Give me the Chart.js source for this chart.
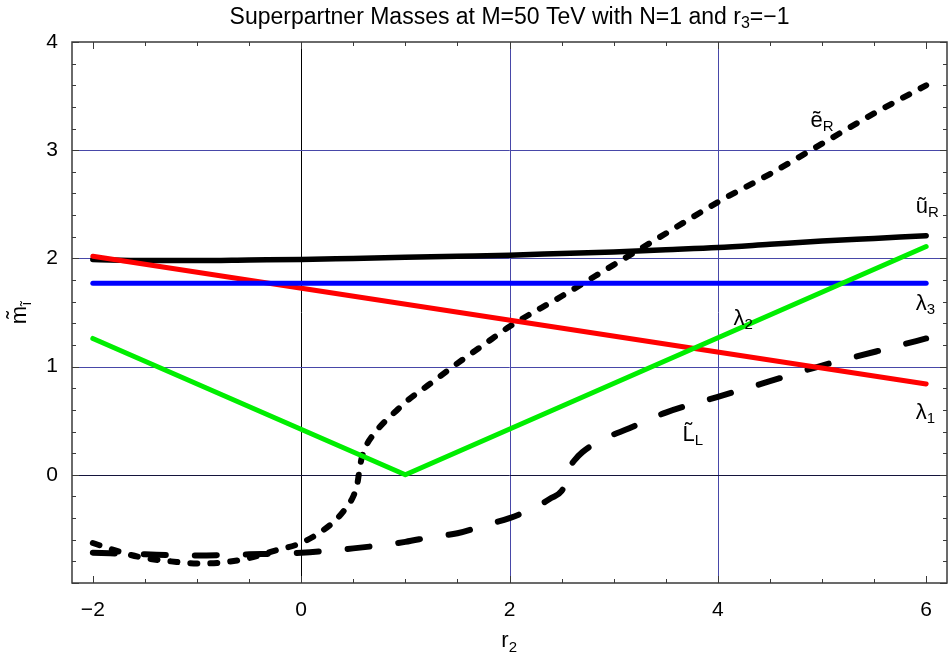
<!DOCTYPE html>
<html><head><meta charset="utf-8">
<script src="https://cdn.jsdelivr.net/npm/chart.js@4"></script>
<style>html,body{margin:0;padding:0;background:#fff}canvas{display:block}</style>
</head><body>
<canvas id="c" width="948" height="659"></canvas>
<script>
// ---- data ----
const uR_x = [-2, -1.5, -1, -0.5, 0, 0.5, 1, 1.5, 2, 2.5, 3, 3.5, 4, 4.5, 5, 5.5, 6];
const uR_y = [1.99, 1.98, 1.98, 1.985, 1.99, 2.0, 2.01, 2.02, 2.03, 2.045, 2.06, 2.08, 2.10, 2.13, 2.16, 2.185, 2.21];

const eR_x = [-2, -1.75, -1.5, -1.25, -1, -0.75, -0.5, -0.25, 0, 0.2, 0.35, 0.45, 0.5, 0.54, 0.56, 0.58, 0.62, 0.7, 0.8, 0.9, 1.0, 1.25, 1.5, 1.75, 2.0, 2.5, 3.0, 3.5, 4.0, 4.5, 5.0, 5.5, 6.0];
const eR_y = [-0.63, -0.71, -0.77, -0.80, -0.82, -0.81, -0.77, -0.70, -0.63, -0.52, -0.40, -0.28, -0.20, -0.08, 0.05, 0.15, 0.26, 0.38, 0.49, 0.58, 0.67, 0.85, 1.03, 1.20, 1.37, 1.65, 1.94, 2.23, 2.52, 2.78, 3.06, 3.34, 3.60];

const LL_x = [-2, -1.5, -1, -0.5, 0, 0.5, 1, 1.25, 1.5, 1.75, 2, 2.25, 2.4, 2.5, 2.54, 2.56, 2.58, 2.62, 2.7, 2.9, 3.15, 3.5, 4, 4.5, 5, 5.5, 6];
const LL_y = [-0.72, -0.735, -0.745, -0.735, -0.72, -0.68, -0.62, -0.575, -0.54, -0.47, -0.40, -0.30, -0.215, -0.15, -0.07, 0.0, 0.07, 0.13, 0.21, 0.33, 0.43, 0.575, 0.72, 0.865, 1.01, 1.135, 1.26];

const l1_x = [-2, 6];
const l1_y = [2.02, 0.84];
const l2_x = [-2, 1, 6];
const l2_y = [1.26, 0, 2.11];
const l3_x = [-2, 6];
const l3_y = [1.77, 1.77];

const xTickLabels = [-2, 0, 2, 4, 6];
const yTickLabels = [0, 1, 2, 3, 4];
const gridX = [0, 2, 4];
const gridY = [0, 1, 2, 3];

const curveLabels = [
  {base: '\u1EBD', sub: 'R', x: 4.89, y: 3.21},
  {base: '\u0169', sub: 'R', x: 5.90, y: 2.415},
  {base: '\u03BB', sub: '3', x: 5.90, y: 1.52},
  {base: '\u03BB', sub: '2', x: 4.15, y: 1.385},
  {base: '\u03BB', sub: '1', x: 5.90, y: 0.52},
  {base: 'L\u0303', sub: 'L', x: 3.66, y: 0.31}
];

const FONT = '"Liberation Sans", Arial, Helvetica, sans-serif';
const pts = (xs, ys) => xs.map((x, i) => ({x, y: ys[i]}));

function seg(ctx, x1, y1, x2, y2) { ctx.beginPath(); ctx.moveTo(x1, y1); ctx.lineTo(x2, y2); ctx.stroke(); }

function textWithSub(ctx, base, sub, x, y, size, subSize, drop) {
  ctx.font = size + 'px ' + FONT;
  ctx.fillText(base, x, y);
  const w = ctx.measureText(base).width;
  ctx.font = subSize + 'px ' + FONT;
  ctx.fillText(sub, x + w, y + drop);
  return w + ctx.measureText(sub).width;
}

const decor = {
  id: 'decor',
  beforeDatasetsDraw(chart) {
    const {ctx, chartArea: a, scales: {x, y}} = chart;
    ctx.save();
    ctx.lineWidth = 1;
    gridX.forEach(v => {
      const px = Math.round(x.getPixelForValue(v)) + 0.5;
      ctx.strokeStyle = v === 0 ? '#000000' : '#4848a8';
      seg(ctx, px, a.top, px, a.bottom);
    });
    gridY.forEach(v => {
      const py = Math.round(y.getPixelForValue(v)) + 0.5;
      ctx.strokeStyle = v === 0 ? '#14143c' : '#4848a8';
      seg(ctx, a.left, py, a.right, py);
    });
    ctx.restore();
  },
  afterDatasetsDraw(chart) {
    const {ctx, chartArea: a, scales: {x, y}} = chart;
    ctx.save();
    // frame
    ctx.strokeStyle = '#3a3a3a';
    ctx.lineWidth = 1.5;
    ctx.strokeRect(a.left, a.top, a.right - a.left, a.bottom - a.top);
    // ticks
    ctx.lineWidth = 1;
    for (let v = -2; v <= 6.001; v += 0.5) {
      const px = Math.round(x.getPixelForValue(v)) + 0.5;
      const major = Math.abs(v - Math.round(v)) < 1e-6 && Math.round(v) % 2 === 0;
      const L = major ? 7 : 4;
      seg(ctx, px, a.bottom, px, a.bottom - L);
      seg(ctx, px, a.top, px, a.top + L);
    }
    for (let k = -5; k <= 20; k++) {
      const v = k * 0.2;
      const py = Math.round(y.getPixelForValue(v)) + 0.5;
      const major = k % 5 === 0;
      const L = major ? 7 : 4;
      seg(ctx, a.left, py, a.left + L, py);
      seg(ctx, a.right, py, a.right - L, py);
    }
    // curve labels
    ctx.fillStyle = '#000';
    ctx.textBaseline = 'alphabetic';
    ctx.textAlign = 'left';
    curveLabels.forEach(l => {
      textWithSub(ctx, l.base, l.sub, x.getPixelForValue(l.x), y.getPixelForValue(l.y), 22, 15, 4);
    });
    // title
    const title1 = 'Superpartner Masses at M=50 TeV with N=1 and r';
    const tsub = '3', tend = '=\u22121';
    ctx.font = '23px ' + FONT;
    const w1 = ctx.measureText(title1).width, w3 = ctx.measureText(tend).width;
    ctx.font = '16px ' + FONT;
    const w2 = ctx.measureText(tsub).width;
    const cx = (a.left + a.right) / 2;
    let tx = cx - (w1 + w2 + w3) / 2;
    ctx.font = '23px ' + FONT; ctx.fillText(title1, tx, 24); tx += w1;
    ctx.font = '16px ' + FONT; ctx.fillText(tsub, tx, 28); tx += w2;
    ctx.font = '23px ' + FONT; ctx.fillText(tend, tx, 24);
    // x axis title r2
    ctx.font = '22px ' + FONT;
    const rw = ctx.measureText('r').width;
    textWithSub(ctx, 'r', '2', cx - (rw + 9) / 2, 647, 22, 15, 5);
    // y axis title
    ctx.translate(26, (a.top + a.bottom) / 2);
    ctx.rotate(-Math.PI / 2);
    ctx.font = '22px ' + FONT;
    const mw = ctx.measureText('m\u0303').width;
    textWithSub(ctx, 'm\u0303', '\u0129', -(mw + 5) / 2, 0, 22, 15, 5);
    ctx.restore();
  }
};

const base = (color, w) => ({borderColor: color, borderWidth: w, borderCapStyle: 'round', borderJoinStyle: 'round',
  showLine: true, pointRadius: 0, pointHoverRadius: 0, fill: false});
const straight = {tension: 0};
const smooth = {tension: 0.4, cubicInterpolationMode: 'monotone'};

new Chart(document.getElementById('c'), {
  type: 'scatter',
  data: {
    datasets: [
      {label: 'lambda2', data: pts(l2_x, l2_y), ...base('#00ee00', 5), ...straight},
      {label: 'lambda3', data: pts(l3_x, l3_y), ...base('#0000ff', 5), ...straight},
      {label: 'lambda1', data: pts(l1_x, l1_y), ...base('#ff0000', 5), ...straight},
      {label: 'eR', data: pts(eR_x, eR_y), ...base('#000000', 6), ...smooth, borderDash: [7, 13]},
      {label: 'LL', data: pts(LL_x, LL_y), ...base('#000000', 6), ...smooth, borderDash: [22, 29]},
      {label: 'uR', data: pts(uR_x, uR_y), ...base('#000000', 5.5), ...smooth}
    ]
  },
  options: {
    responsive: false,
    animation: false,
    devicePixelRatio: 1,
    layout: {padding: {top: 42, right: 1, left: 0, bottom: 0}},
    plugins: {legend: {display: false}, title: {display: false}, tooltip: {enabled: false}},
    scales: {
      x: {
        type: 'linear', min: -2.2, max: 6.2,
        grid: {display: false, drawTicks: false},
        border: {display: false},
        afterFit: s => { s.height = 76; },
        ticks: {
          stepSize: 2, includeBounds: false, autoSkip: false, maxRotation: 0, padding: 15,
          color: '#000', font: {family: FONT, size: 21},
          callback: v => xTickLabels.includes(v) ? (v < 0 ? '\u2212' + Math.abs(v) : String(v)) : ''
        }
      },
      y: {
        type: 'linear', min: -1, max: 4,
        grid: {display: false, drawTicks: false},
        border: {display: false},
        afterFit: s => { s.width = 72; },
        ticks: {
          stepSize: 1, includeBounds: false, autoSkip: false, padding: 14,
          color: '#000', font: {family: FONT, size: 21},
          callback: v => yTickLabels.includes(v) ? String(v) : ''
        }
      }
    }
  },
  plugins: [decor]
});
</script>
</body></html>
